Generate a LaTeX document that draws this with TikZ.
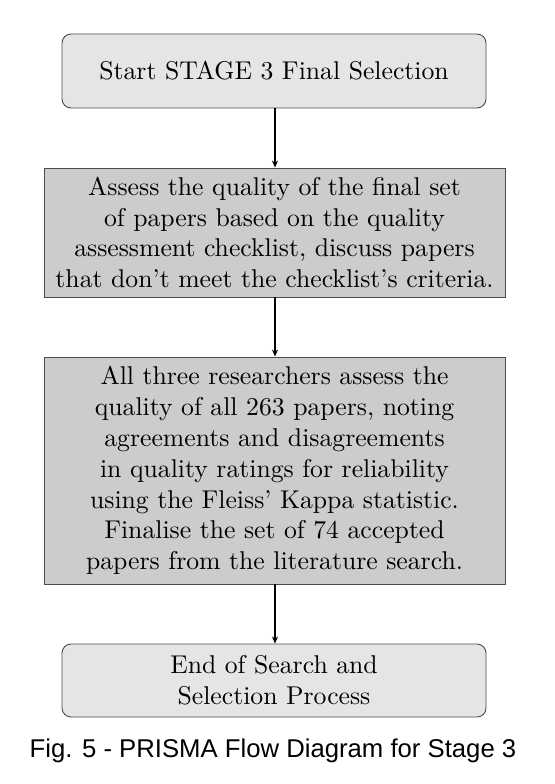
\documentclass[tikz,border=0pt]{standalone}
\usepackage{fontspec}
\setmainfont{lmroman10-regular.otf}[BoldFont=lmroman10-bold.otf]
\newfontfamily\capfont{Liberation Sans}
\usetikzlibrary{arrows.meta}
\begin{document}
\begin{tikzpicture}[x=1pt,y=1pt,
  base/.style={draw=black!70, line width=0.9pt, align=center, inner sep=0pt,
    font=\fontsize{25.7}{30.8}\selectfont},
  roundbox/.style={base, fill=black!10, rounded corners=9pt, minimum width=424pt},
  squarebox/.style={base, fill=black!20, minimum width=461pt},
  arr/.style={-{Stealth[length=7pt,width=6pt]}, line width=1.2pt, black}]
\useasboundingbox (0,0) rectangle (554,-784);
\node[roundbox, minimum height=74pt] (start) at (274,-71) {Start STAGE 3 Final Selection};
\node[squarebox, minimum height=129pt] (assess) at (274.5,-232.5)
  {Assess the quality of the final set\\of papers based on the quality\\assessment checklist, discuss papers\\that don't meet the checklist's criteria.};
\node[squarebox, minimum height=227pt] (all) at (274.5,-470.5)
  {All three researchers assess the\\quality of all 263 papers, noting\\agreements and disagreements\\in quality ratings for reliability\\using the Fleiss' Kappa statistic.\\Finalise the set of 74 accepted\\papers from the literature search.};
\node[roundbox, minimum height=73pt] (end) at (274,-680.5) {End of Search and\\Selection Process};
\draw[arr] (start.south -| 275,0) -- (assess.north -| 275,0);
\draw[arr] (assess.south -| 275,0) -- (all.north -| 275,0);
\draw[arr] (all.south -| 275,0) -- (end.north -| 275,0);
\node[anchor=base, inner sep=0pt, font=\capfont\fontsize{25.7}{30}\selectfont] (cap) at (273,-757)
  {Fig. 5 - PRISMA Flow Diagram for Stage 3};
\end{tikzpicture}
\end{document}
